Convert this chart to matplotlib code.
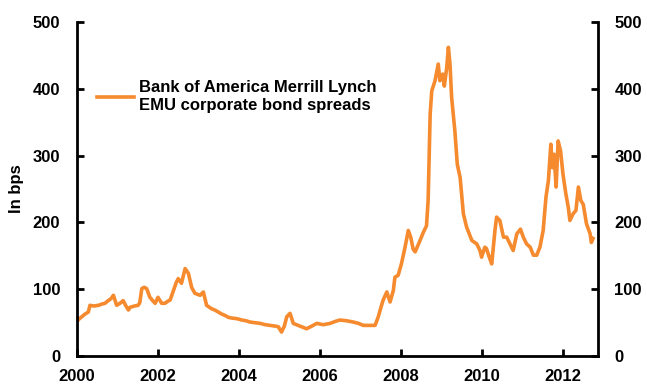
import matplotlib.pyplot as plt

plt.rcParams['font.family'] = ['Liberation Sans', 'DejaVu Sans']
plt.rcParams['font.weight'] = 'bold'

# decimal years and spread (bps)
years = [2000.0, 2000.06, 2000.12, 2000.2, 2000.28, 2000.32, 2000.42, 2000.53, 2000.62, 2000.69,
         2000.77, 2000.84, 2000.9, 2000.98, 2001.06, 2001.14, 2001.2, 2001.27, 2001.31, 2001.42,
         2001.51, 2001.55, 2001.6, 2001.66, 2001.72, 2001.8, 2001.87, 2001.93, 2002.0, 2002.09,
         2002.17, 2002.24, 2002.3, 2002.38, 2002.45, 2002.5, 2002.58, 2002.67, 2002.75, 2002.83,
         2002.91, 2003.04, 2003.12, 2003.2, 2003.32, 2003.4, 2003.49, 2003.57, 2003.65, 2003.74,
         2003.82, 2003.95, 2004.07, 2004.17, 2004.27, 2004.4, 2004.52, 2004.65, 2004.77, 2004.88,
         2004.97, 2005.05, 2005.12, 2005.18, 2005.26, 2005.34, 2005.5, 2005.67, 2005.8, 2005.92,
         2006.08, 2006.25, 2006.38, 2006.49, 2006.65, 2006.82, 2006.95, 2007.07, 2007.2, 2007.36,
         2007.44, 2007.5, 2007.56, 2007.65, 2007.73, 2007.81, 2007.85, 2007.93, 2008.01, 2008.1,
         2008.18, 2008.24, 2008.3, 2008.35, 2008.47, 2008.55, 2008.63, 2008.67, 2008.72, 2008.76,
         2008.84, 2008.92, 2008.96, 2009.03, 2009.07, 2009.13, 2009.17, 2009.21, 2009.25, 2009.33,
         2009.39, 2009.46, 2009.54, 2009.62, 2009.75, 2009.87, 2009.95, 2009.99, 2010.07, 2010.11,
         2010.18, 2010.24, 2010.32, 2010.36, 2010.44, 2010.53, 2010.61, 2010.69, 2010.77, 2010.86,
         2010.95, 2011.02, 2011.1, 2011.19, 2011.27, 2011.35, 2011.43, 2011.51, 2011.58, 2011.64,
         2011.7, 2011.74, 2011.78, 2011.83, 2011.88, 2011.94, 2012.0, 2012.07, 2012.13, 2012.17,
         2012.25, 2012.32, 2012.38, 2012.44, 2012.5, 2012.58, 2012.67, 2012.7, 2012.74]
spread = [52, 56, 59, 63, 66, 76, 75, 76, 78, 79,
          83, 86, 91, 76, 79, 83, 76, 69, 73, 75,
          76, 80, 101, 103, 101, 88, 83, 79, 88, 79,
          79, 82, 84, 98, 110, 116, 109, 131, 124, 103,
          94, 91, 96, 76, 71, 69, 66, 63, 61, 58,
          57, 56, 54, 53, 51, 50, 49, 47, 46, 45,
          44, 36, 45, 59, 64, 49, 45, 41, 45, 49,
          47, 49, 52, 54, 53, 51, 49, 46, 46, 46,
          59, 72, 84, 96, 81, 98, 118, 121, 138, 163,
          188, 178, 160, 156, 173, 185, 195, 233, 362, 397,
          412, 437, 412, 422, 404, 432, 462, 437, 387, 337,
          287, 267, 213, 193, 173, 168, 158, 148, 163, 161,
          148, 138, 188, 208, 203, 178, 178, 168, 158, 183,
          190, 178, 168, 163, 151, 151, 163, 188, 238, 263,
          317, 282, 302, 253, 322, 307, 272, 243, 223, 203,
          213, 218, 253, 233, 227, 198, 183, 170, 176]

yticks = [0, 100, 200, 300, 400, 500]
xticks = [2000, 2002, 2004, 2006, 2008, 2010, 2012]

fig = plt.figure(figsize=(6.47, 3.85), dpi=100)
ax = fig.add_axes([0.119, 0.075, 0.805, 0.868])
ax.plot(years, spread, color='#F58A2E', linewidth=2.6,
        label='Bank of America Merrill Lynch\nEMU corporate bond spreads')

ax.set_xlim(2000, 2012.86)
ax.set_ylim(0, 500)
ax.set_xticks(xticks)
ax.set_yticks(yticks)
ax.set_ylabel('In bps', fontsize=12, fontweight='bold', labelpad=6)

ax2 = ax.twinx()
ax2.set_ylim(0, 500)
ax2.set_yticks(yticks)

for a in (ax, ax2):
    a.spines['top'].set_visible(False)
    for s in a.spines.values():
        s.set_linewidth(2)
    a.tick_params(direction='in', width=2, length=5, labelsize=12)
    a.tick_params(axis='y', pad=12)
    a.tick_params(axis='x', pad=9)
ax.spines['right'].set_visible(False)
ax2.spines['left'].set_visible(False)
ax2.spines['bottom'].set_visible(False)

ax.legend(loc='upper left', bbox_to_anchor=(0.01, 0.87), frameon=False,
          fontsize=12, handlelength=2.2, handletextpad=0.3)

fig.savefig('out.png', dpi=100)
